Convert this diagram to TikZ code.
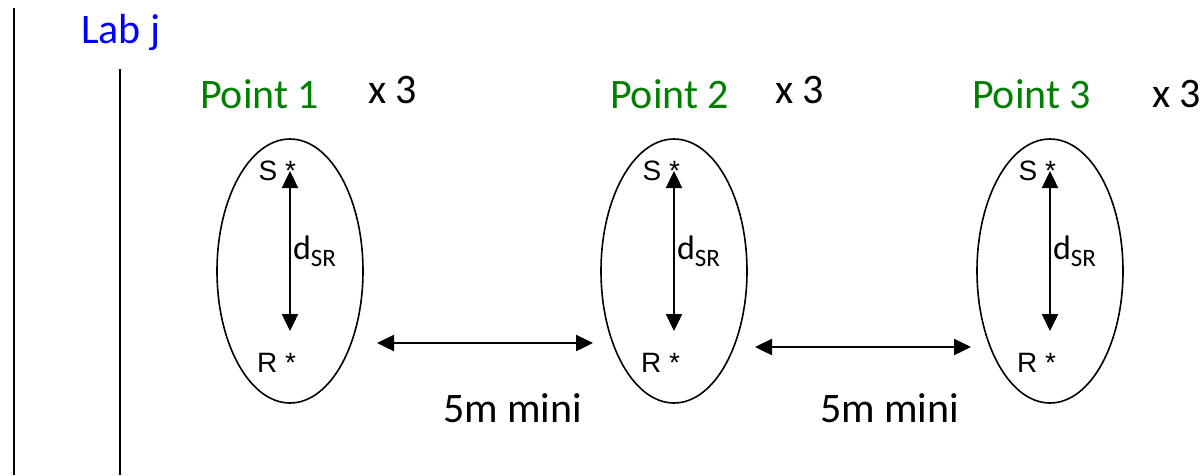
\documentclass[tikz,border=0pt]{standalone}
\usepackage{fontspec}
\setmainfont{Carlito}
\newfontfamily\arialfont{Liberation Sans}
\usetikzlibrary{arrows.meta,shapes.geometric}
\definecolor{labblue}{RGB}{0,0,255}
\definecolor{ptgreen}{RGB}{0,128,0}
\tikzset{
  txt/.style={inner sep=0pt, outer sep=0pt, anchor=base west, font=\fontsize{42}{50}\selectfont},
  srtxt/.style={inner sep=0pt, outer sep=0pt, anchor=base east, font=\arialfont\fontsize{28}{32}\selectfont},
  dtxt/.style={inner sep=0pt, outer sep=0pt, anchor=base west, font=\fontsize{34}{40}\selectfont},
  pointell/.style={draw, line width=1.6pt, ellipse, minimum width=146pt, minimum height=264pt, inner sep=0pt},
  dblarrow/.style={line width=2.4pt, {Triangle[length=17pt,width=16pt]}-{Triangle[length=17pt,width=16pt]}},
  vline/.style={line width=2.2pt},
}
\begin{document}
\begin{tikzpicture}[x=1pt,y=-1pt]
\useasboundingbox (0,0) rectangle (1204,475);
% vertical lines
\coordinate (l1t) at (14,8);
\coordinate (l1b) at (14,475);
\coordinate (l2t) at (120,69);
\coordinate (l2b) at (120,475);
\draw[vline] (l1t) -- (l1b);
\draw[vline] (l2t) -- (l2b);
% title
\node[txt, text=labblue] (lab) at (81,43) {Lab j};
% point labels
\node[txt, text=ptgreen] (p1) at (200,108) {Point 1};
\node[txt] (x1) at (368,103) {x 3};
\node[txt, text=ptgreen] (p2) at (610,108) {Point 2};
\node[txt] (x2) at (775,103) {x 3};
\node[txt, text=ptgreen] (p3) at (972,108) {Point 3};
\node[txt] (x3) at (1152,107) {x 3};
% ellipses and inner content
\foreach \i/\cx in {1/290, 2/674, 3/1050} {
  \node[pointell] (e\i) at (\cx,271) {};
  \node[srtxt] (s\i) at (\cx+6,180) {S *};
  \node[srtxt] (r\i) at (\cx+6,372) {R *};
  \node[dtxt] (d\i) at (\cx+3,259) {d\textsubscript{\fontsize{25}{30}\selectfont SR}};
  \coordinate (at\i) at (\cx,171);
  \coordinate (ab\i) at (\cx,331);
  \draw[dblarrow] (at\i) -- (ab\i);
}
% horizontal arrows
\coordinate (h1a) at (377,343);
\coordinate (h1b) at (593,343);
\coordinate (h2a) at (755,347);
\coordinate (h2b) at (971,347);
\draw[dblarrow] (h1a) -- (h1b);
\draw[dblarrow] (h2a) -- (h2b);
\node[txt] (m1) at (443,422) {5m mini};
\node[txt] (m2) at (820,422) {5m mini};
\end{tikzpicture}
\end{document}
